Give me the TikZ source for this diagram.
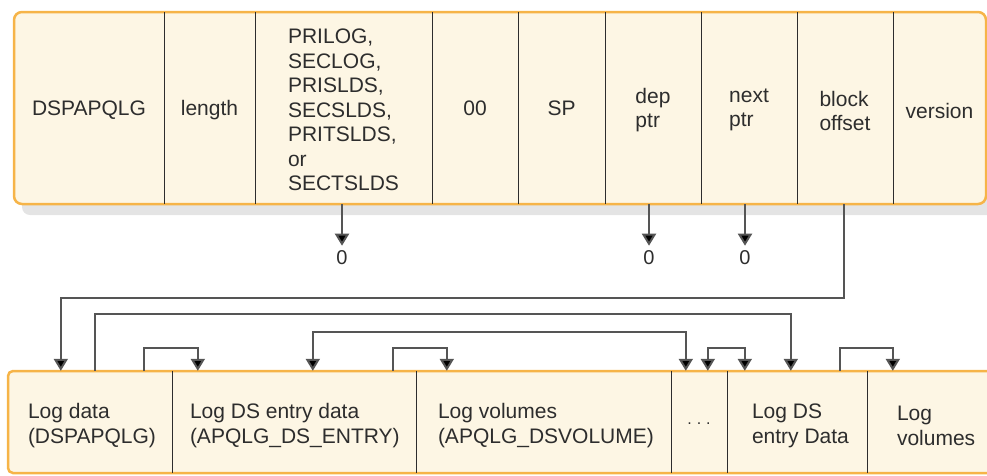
\documentclass[tikz,border=0pt]{standalone}
\usepackage{fontspec}
\setmainfont{Liberation Sans}
\usetikzlibrary{arrows.meta,calc}
\definecolor{boxfill}{RGB}{253,246,228}
\definecolor{boxline}{RGB}{246,180,72}
\definecolor{txt}{RGB}{45,45,45}
\definecolor{conn}{RGB}{85,85,85}
\definecolor{shadowc}{RGB}{228,228,228}
\begin{document}
\begin{tikzpicture}[x=1pt,y=-1pt,
  tcell/.style={rectangle,inner sep=0pt,minimum height=192pt,align=left,text=txt,
    font=\fontsize{21}{24.5}\selectfont},
  bcell/.style={rectangle,inner sep=0pt,minimum height=102pt},
  btxt/.style={anchor=west,inner sep=0pt,align=left,text=txt,font=\fontsize{21}{25}\selectfont},
  zero/.style={inner sep=0pt,text=txt,font=\fontsize{20}{23}\selectfont},
  outline/.style={draw=boxline,line width=2.5pt,fill=boxfill},
  divider/.style={draw=txt,line width=1.4pt},
  connector/.style={draw=conn,line width=2pt,arrows={-{Triangle[length=12pt,width=14pt,fill=black]}}},
  biconn/.style={draw=conn,line width=2pt,arrows={{Triangle[length=12pt,width=14pt,fill=black]}-{Triangle[length=12pt,width=14pt,fill=black]}}}]
\clip (0,0) rectangle (987,475);
% top record
\fill[shadowc,rounded corners=8pt] (22,24) rectangle (996,215);
\draw[outline,rounded corners=8pt] (14,12) rectangle (986,204);
\node[tcell,minimum width=150pt] (t1) at (89,110) {DSPAPQLG};
\node[tcell,minimum width=91pt] (t2) at (209.5,110) {length};
\node[tcell,minimum width=177pt] (t3) at (343.5,110) {PRILOG,\\SECLOG,\\PRISLDS,\\SECSLDS,\\PRITSLDS,\\or\\SECTSLDS};
\node[tcell,minimum width=86pt] (t4) at (475,108) {00};
\node[tcell,minimum width=87pt] (t5) at (561.5,108) {SP};
\node[tcell,minimum width=96pt] (t6) at (653,110) {dep\\ptr};
\node[tcell,minimum width=96pt] (t7) at (749,110) {next\\ptr};
\node[tcell,minimum width=96pt] (t8) at (845,111) {block\\offset};
\node[tcell,minimum width=93pt] (t9) at (939.5,111) {version};
\foreach \c in {t1,t2,t3,t4,t5,t6,t7,t8}
  \draw[divider] (\c.east |- 0,12) -- (\c.east |- 0,204);
% zero targets
\node[zero] (z1) at (342,258) {0};
\node[zero] (z2) at (649,258) {0};
\node[zero] (z3) at (745,258) {0};
\draw[connector,shorten >=5pt] (z1.north |- 0,204) -- (z1.north);
\draw[connector,shorten >=5pt] (z2.north |- 0,204) -- (z2.north);
\draw[connector,shorten >=5pt] (z3.north |- 0,204) -- (z3.north);
% bottom record
\draw[outline,rounded corners=5pt] (1010,371) -- (8,371) -- (8,473) -- (1010,473);
\node[bcell,minimum width=164pt] (b1) at (90,422) {};
\node[bcell,minimum width=244pt] (b2) at (294,422) {};
\node[bcell,minimum width=255pt] (b3) at (543.5,422) {};
\node[bcell,minimum width=56pt] (b4) at (699,422) {};
\node[bcell,minimum width=140pt] (b5) at (797,422) {};
\node[bcell,minimum width=133pt] (b6) at (933.5,422) {};
\foreach \c in {b1,b2,b3,b4,b5}
  \draw[divider] (\c.north east) -- (\c.south east);
\node[btxt] (l1) at ([xshift=20pt,yshift=-4pt]b1.west) {Log data\\(DSPAPQLG)};
\node[btxt] (l2) at ([xshift=18pt,yshift=-4pt]b2.west) {Log DS entry data\\(APQLG\_DS\_ENTRY)};
\node[btxt] (l3) at ([xshift=22pt,yshift=-4pt]b3.west) {Log volumes\\(APQLG\_DSVOLUME)};
\node[inner sep=0pt,text=txt,font=\fontsize{16}{18}\selectfont] (l4) at ([yshift=-2pt]b4.center) {.\hspace{5pt}.\hspace{5pt}.};
\node[btxt] (l5) at ([xshift=25pt,yshift=-4pt]b5.west) {Log DS\\entry Data};
\node[btxt] (l6) at ([xshift=30pt,yshift=-4pt]b6.west) {Log\\volumes};
% connectors between records
\draw[connector] ([xshift=-1pt]t8.south |- 0,204) -- ++(0,94) -| ([xshift=53pt]b1.north west);
\draw[connector] ([xshift=87pt]b1.north west) -- ++(0,-57) -| ([xshift=64pt]b5.north west);
\draw[biconn] ([xshift=141pt]b2.north west) -- ++(0,-39) -| ([xshift=15pt]b4.north west);
\draw[connector] ([xshift=136pt]b1.north west) -- ++(0,-23) -| ([xshift=26pt]b2.north west);
\draw[connector] ([xshift=221pt]b2.north west) -- ++(0,-23) -| ([xshift=31pt]b3.north west);
\draw[biconn] ([xshift=37pt]b4.north west) -- ++(0,-23) -| ([xshift=18pt]b5.north west);
\draw[connector] ([xshift=113pt]b5.north west) -- ++(0,-23) -| ([xshift=26pt]b6.north west);
\end{tikzpicture}
\end{document}
